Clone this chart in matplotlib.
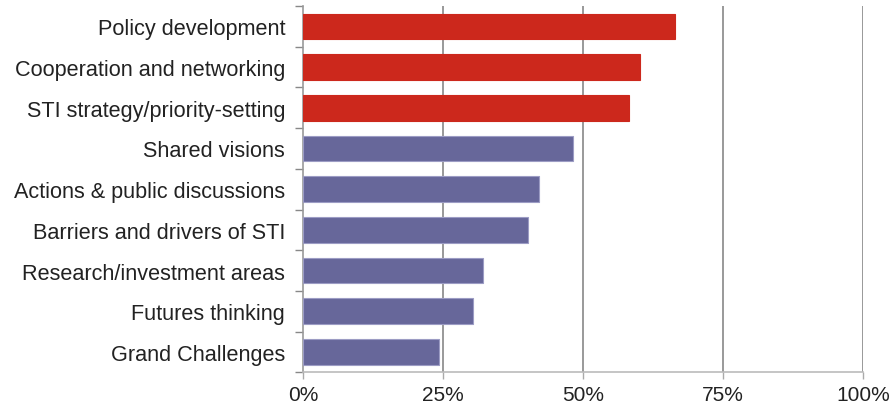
import matplotlib
matplotlib.use("Agg")
import matplotlib.pyplot as plt
import numpy as np

categories = ["Policy development", "Cooperation and networking", "STI strategy/priority-setting",
              "Shared visions", "Actions & public discussions", "Barriers and drivers of STI",
              "Research/investment areas", "Futures thinking", "Grand Challenges"]
values = [66.3, 60.2, 58.2, 48.2, 42.1, 40.1, 32.1, 30.3, 24.2]
highlight = [True, True, True, False, False, False, False, False, False]
xticks = [0, 25, 50, 75, 100]
xticklabels = ["0%", "25%", "50%", "75%", "100%"]

plt.rcParams['font.family'] = ['Liberation Sans', 'DejaVu Sans']

fig = plt.figure(figsize=(8.93, 4.06), dpi=100)
ax = fig.add_axes([303.3/893, 1 - 373.3/406, 560/893, 366.3/406])

n = len(categories)
y = np.arange(n)[::-1]
colors = ["#CC281C" if h else "#67679A" for h in highlight]
ax.barh(y, values, height=0.63, color=colors,
        edgecolor=["#CC281C" if h else "#9C9CC4" for h in highlight],
        linewidth=0.8, zorder=3)

ax.set_xlim(0, 100)
ax.set_ylim(-0.5, n - 0.5)
ax.set_xticks(xticks)
ax.set_xticklabels(xticklabels, fontsize=15, color="#222222")
ax.set_yticks(y)
ax.set_yticklabels(categories, fontsize=15.6, color="#222222")
ax.set_yticks(np.arange(-0.5, n, 1.0), minor=True)
ax.tick_params(axis='y', which='major', length=0, pad=13)
ax.tick_params(axis='y', which='minor', length=6, color="#888888", width=1)
ax.tick_params(axis='x', which='major', length=5, color="#aaaaaa", width=1, pad=4)

for xv in xticks[1:]:
    ax.axvline(xv, color="#888888", linewidth=1.2, zorder=1)

for s in ["top", "right"]:
    ax.spines[s].set_visible(False)
ax.spines["left"].set_color("#999999")
ax.spines["bottom"].set_color("#bbbbbb")
ax.spines["left"].set_linewidth(1.2)
ax.spines["bottom"].set_linewidth(1.2)

fig.savefig("out.png", dpi=100)
